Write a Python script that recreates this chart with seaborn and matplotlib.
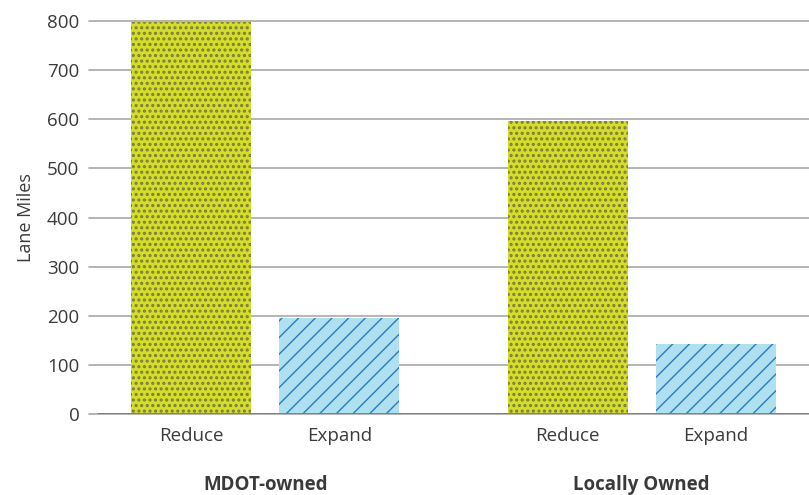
import matplotlib
matplotlib.use("Agg")
import matplotlib.pyplot as plt
import seaborn as sns
import pandas as pd

groups = ["MDOT-owned", "Locally Owned"]
actions = ["Reduce", "Expand"]
mdot_values = [797, 196]
local_values = [597, 143]
y_ticks = [0, 100, 200, 300, 400, 500, 600, 700, 800]

df = pd.DataFrame({
    "group": [groups[0]] * 2 + [groups[1]] * 2,
    "action": actions * 2,
    "miles": mdot_values + local_values,
})

sns.set_theme(style="white")
plt.rcParams["font.family"] = ["Open Sans", "DejaVu Sans"]
plt.rcParams["hatch.linewidth"] = 1.0

fig = plt.figure(figsize=(8.09, 4.95), dpi=100)
ax = fig.add_axes([0.11, 0.1636, 0.89, 0.794])

fill = {"Reduce": "#d5df22", "Expand": "#aee0ef"}
hatch_col = {"Reduce": "#7a7950", "Expand": "#2a7bc2"}
hatches = {"Reduce": "...", "Expand": "//"}
hatch_lw = {"Reduce": 1.5, "Expand": 1.0}

sns.barplot(data=df, x="group", y="miles", hue="action", order=groups,
            hue_order=actions, palette=fill, saturation=1, width=0.787, gap=0.19,
            legend=False, ax=ax, zorder=3, linewidth=0)

text_col = "#3a3a3a"
fs = 13.5
for container, act in zip(ax.containers, actions):
    for bar in container:
        bar.set_hatch(hatches[act])
        bar.set_edgecolor(hatch_col[act])
        bar.set_linewidth(0)
        if hasattr(bar, "set_hatch_linewidth"):
            bar.set_hatch_linewidth(hatch_lw[act])
        else:
            bar._hatch_linewidth = hatch_lw[act]
        cx = bar.get_x() + bar.get_width() / 2
        ax.text(cx, -0.033, act, transform=ax.get_xaxis_transform(),
                ha="center", va="top", fontsize=fs, color=text_col)

ax.set_xlim(-0.469, 1.445)
ax.set_ylim(0, 800)
ax.set_yticks(y_ticks)
ax.yaxis.grid(True, color="#a8a8a8", linewidth=1.2, zorder=0)
ax.set_axisbelow(True)
for s in ax.spines.values():
    s.set_visible(False)
ax.axhline(0, color="#7a7a7a", linewidth=2, zorder=4, xmin=0.013)
ax.tick_params(axis="y", length=0, labelsize=fs, labelcolor=text_col, pad=7)
ax.tick_params(axis="x", length=0, pad=44)
for lbl in ax.get_xticklabels():
    lbl.set_fontweight("bold")
    lbl.set_fontsize(fs)
    lbl.set_color(text_col)
ax.set_xlabel("")
ax.set_ylabel("Lane Miles", fontsize=fs - 0.5, color=text_col, labelpad=9)
for line in ax.get_ygridlines():
    line.set_clip_on(False)

fig.savefig("out.png", dpi=100)
